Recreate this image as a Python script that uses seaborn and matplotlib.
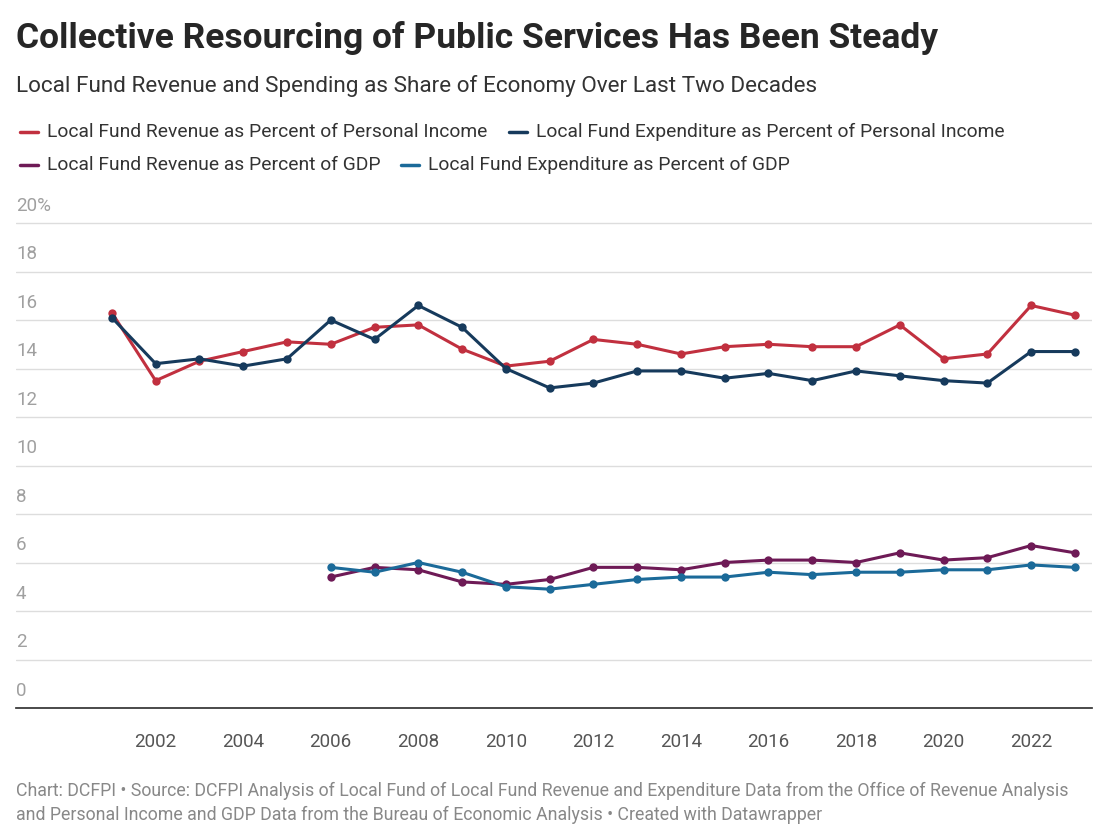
import matplotlib
matplotlib.use("Agg")
import matplotlib.pyplot as plt
import seaborn as sns
import pandas as pd

years = list(range(2001, 2024))
rev_pi = [16.3, 13.5, 14.3, 14.7, 15.1, 15.0, 15.7, 15.8, 14.8, 14.1, 14.3, 15.2, 15.0, 14.6, 14.9, 15.0, 14.9, 14.9, 15.8, 14.4, 14.6, 16.6, 16.2]
exp_pi = [16.1, 14.2, 14.4, 14.1, 14.4, 16.0, 15.2, 16.6, 15.7, 14.0, 13.2, 13.4, 13.9, 13.9, 13.6, 13.8, 13.5, 13.9, 13.7, 13.5, 13.4, 14.7, 14.7]
gdp_years = list(range(2006, 2024))
rev_gdp = [5.4, 5.8, 5.7, 5.2, 5.1, 5.3, 5.8, 5.8, 5.7, 6.0, 6.1, 6.1, 6.0, 6.4, 6.1, 6.2, 6.7, 6.4]
exp_gdp = [5.8, 5.6, 6.0, 5.6, 5.0, 4.9, 5.1, 5.3, 5.4, 5.4, 5.6, 5.5, 5.6, 5.6, 5.7, 5.7, 5.9, 5.8]
series_names = ["Local Fund Revenue as Percent of Personal Income",
                "Local Fund Expenditure as Percent of Personal Income",
                "Local Fund Revenue as Percent of GDP",
                "Local Fund Expenditure as Percent of GDP"]
colors = ["#c1303f", "#163a5c", "#6e1a56", "#1b6a99"]
yticks = [0, 2, 4, 6, 8, 10, 12, 14, 16, 18, 20]
xticks = list(range(2002, 2024, 2))

sns.set_theme(style="white")
plt.rcParams['font.family'] = ['Roboto', 'DejaVu Sans']

df = pd.concat([
    pd.DataFrame({"year": years, "value": rev_pi, "series": series_names[0]}),
    pd.DataFrame({"year": years, "value": exp_pi, "series": series_names[1]}),
    pd.DataFrame({"year": gdp_years, "value": rev_gdp, "series": series_names[2]}),
    pd.DataFrame({"year": gdp_years, "value": exp_gdp, "series": series_names[3]}),
])

fig = plt.figure(figsize=(11.13, 8.4), dpi=100)
ax = fig.add_axes([16/1113, 1 - 708/840, (1092-16)/1113, (708-200)/840])
sns.lineplot(data=df, x="year", y="value", hue="series", palette=colors,
             marker="o", markersize=6, markeredgewidth=0, linewidth=2.2, ax=ax, legend=False)

xmin = 1998.81
ax.set_xlim(xmin, 2023.39)
ax.set_ylim(0, 20.95)
ax.set_yticks(yticks)
ax.yaxis.grid(True, color="#dddddd", linewidth=1)
ax.tick_params(axis="y", length=0, labelleft=False)
for v in yticks:
    ax.text(xmin, v + 0.35, f"{v}%" if v == 20 else str(v), fontsize=13.5, color="#a0a0a0", va="bottom", ha="left")
ax.set_xticks(xticks)
ax.set_xticklabels([str(x) for x in xticks], fontsize=13.5, color="#555555")
ax.tick_params(axis="x", length=0, pad=18)
for s in ["top", "right", "left"]:
    ax.spines[s].set_visible(False)
ax.spines["bottom"].set_color("#333333")
ax.set_xlabel("")
ax.set_ylabel("")

fig.text(16/1113, 1 - 38/840, "Collective Resourcing of Public Services Has Been Steady", fontsize=25.5, fontweight="bold", va="center")
fig.text(16/1113, 1 - 86/840, "Local Fund Revenue and Spending as Share of Economy Over Last Two Decades", fontsize=16.2, color="#333333", va="center")

leg = [(20, 132, 0), (509, 132, 1), (20, 165, 2), (401, 165, 3)]
for x, y, i in leg:
    fig.lines.append(plt.Line2D([x/1113, (x+18)/1113], [1-y/840]*2, color=colors[i], linewidth=2.5, transform=fig.transFigure))
    fig.text((x+27)/1113, 1 - y/840, series_names[i], fontsize=13.9, color="#333333", va="center")

fig.text(16/1113, 1 - 803/840, "Chart: DCFPI • Source: DCFPI Analysis of Local Fund of Local Fund Revenue and Expenditure Data from the Office of Revenue Analysis\nand Personal Income and GDP Data from the Bureau of Economic Analysis • Created with Datawrapper",
         fontsize=12.8, color="#888888", va="center", linespacing=1.45)

fig.savefig("out.png", dpi=100)
